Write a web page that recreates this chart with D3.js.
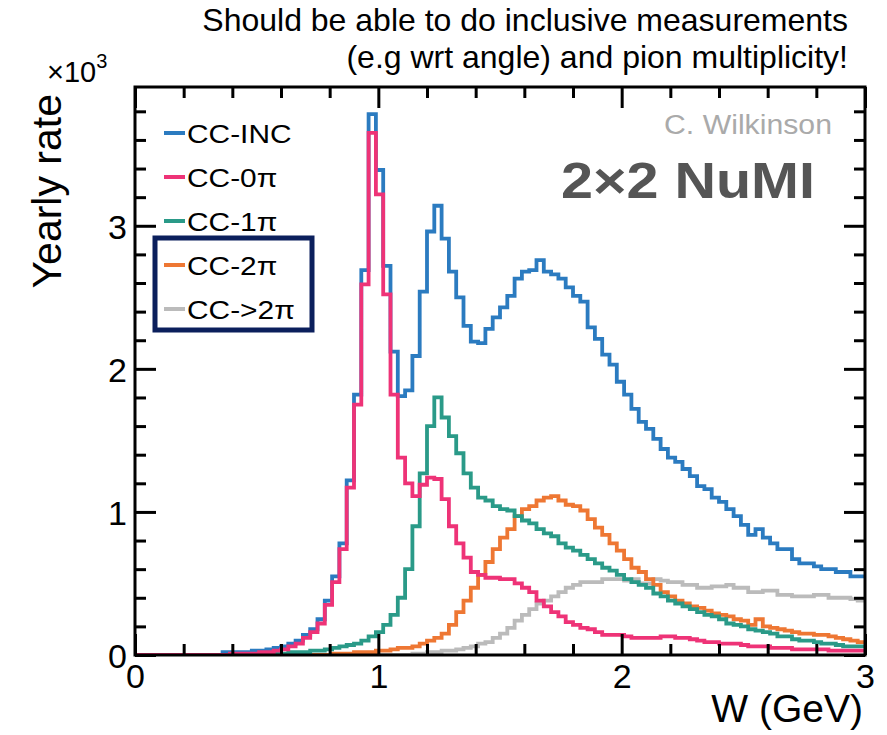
<!DOCTYPE html>
<html>
<head>
<meta charset="utf-8">
<script src="https://cdn.jsdelivr.net/npm/d3@7"></script>
<style>
  html, body { margin: 0; padding: 0; background: #ffffff; }
  svg { display: block; font-family: "Liberation Sans", Arial, Helvetica, sans-serif; }
</style>
</head>
<body>
<svg id="chart" width="887" height="735"></svg>
<script>
// ---------------- DATA ----------------
const binLow = 0;          // GeV
const binWidth = 0.03;     // GeV

const seriesNames = ["CC-INC", "CC-0\u03c0", "CC-1\u03c0", "CC-2\u03c0", "CC->2\u03c0"];
const seriesColors = ["#2b7bc0", "#ee3377", "#2a9a88", "#ee7733", "#bbbbbb"];

// yearly rate in units of 10^3, 100 bins of 0.03 GeV from W=0 to W=3
const ccInc = [
  0,0,0,0,0,0,0,0,0,0,
  0,0,0.02,0.02,0.02,0.02,0.03,0.03,0.04,0.05,
  0.06,0.08,0.10,0.14,0.18,0.25,0.38,0.55,0.78,1.22,
  1.82,2.69,3.78,3.39,2.72,2.12,1.81,1.85,2.09,2.54,
  2.96,3.14,2.91,2.68,2.50,2.30,2.19,2.18,2.28,2.36,
  2.43,2.51,2.63,2.68,2.69,2.76,2.68,2.66,2.63,2.57,
  2.51,2.47,2.29,2.21,2.10,2.03,1.91,1.82,1.72,1.63,
  1.58,1.51,1.44,1.38,1.35,1.30,1.25,1.18,1.16,1.10,
  1.07,1.02,0.97,0.91,0.84,0.88,0.82,0.78,0.74,0.74,
  0.67,0.64,0.64,0.62,0.60,0.60,0.58,0.58,0.55,0.55
];
const cc0pi = [
  0,0,0,0,0,0,0,0,0,0,
  0,0,0,0.01,0.01,0.01,0.01,0.02,0.02,0.03,
  0.04,0.06,0.08,0.12,0.16,0.22,0.35,0.51,0.74,1.17,
  1.75,2.59,3.65,3.22,2.52,1.82,1.38,1.20,1.11,1.19,
  1.24,1.23,1.09,0.90,0.78,0.68,0.58,0.56,0.54,0.54,
  0.53,0.53,0.50,0.47,0.44,0.38,0.34,0.30,0.27,0.23,
  0.21,0.19,0.18,0.16,0.14,0.14,0.14,0.13,0.12,0.12,
  0.12,0.12,0.13,0.13,0.12,0.12,0.11,0.10,0.09,0.09,
  0.08,0.08,0.08,0.07,0.06,0.06,0.06,0.05,0.05,0.05,
  0.04,0.04,0.04,0.04,0.04,0.03,0.03,0.03,0.03,0.03
];
const cc1pi = [
  0,0,0,0,0,0,0,0,0,0,
  0,0,0,0,0,0,0,0.01,0.01,0.01,
  0.01,0.02,0.02,0.02,0.03,0.03,0.04,0.05,0.06,0.07,
  0.08,0.10,0.13,0.16,0.21,0.28,0.40,0.60,0.90,1.27,
  1.60,1.80,1.66,1.53,1.41,1.27,1.17,1.10,1.08,1.04,
  1.02,1.01,0.97,0.94,0.92,0.88,0.85,0.83,0.78,0.75,
  0.73,0.70,0.67,0.64,0.61,0.59,0.56,0.53,0.51,0.49,
  0.47,0.43,0.41,0.38,0.36,0.34,0.32,0.30,0.28,0.27,
  0.25,0.22,0.21,0.20,0.18,0.17,0.16,0.15,0.13,0.13,
  0.11,0.10,0.10,0.09,0.08,0.08,0.07,0.06,0.06,0.06
];
const cc2pi = [
  0,0,0,0,0,0,0,0,0,0,
  0,0,0,0,0,0,0,0,0,0,
  0,0,0,0,0,0,0,0.01,0.01,0.01,
  0.02,0.02,0.02,0.03,0.03,0.04,0.05,0.05,0.06,0.08,
  0.10,0.12,0.15,0.21,0.30,0.38,0.47,0.56,0.65,0.74,
  0.82,0.88,0.97,1.02,1.04,1.08,1.10,1.11,1.08,1.05,
  1.04,1.01,0.95,0.89,0.84,0.78,0.73,0.67,0.61,0.58,
  0.53,0.49,0.44,0.41,0.38,0.36,0.34,0.33,0.31,0.29,
  0.28,0.27,0.25,0.24,0.21,0.25,0.20,0.19,0.18,0.17,
  0.16,0.15,0.15,0.14,0.14,0.13,0.12,0.11,0.10,0.09
];
const ccMore2pi = [
  0,0,0,0,0,0,0,0,0,0,
  0,0,0,0,0,0,0,0,0,0,
  0,0,0,0,0,0,0,0,0,0,
  0,0,0,0,0,0,0,0,0.01,0.01,
  0.02,0.02,0.03,0.03,0.04,0.05,0.06,0.08,0.09,0.12,
  0.15,0.19,0.24,0.28,0.32,0.36,0.38,0.41,0.44,0.47,
  0.49,0.51,0.51,0.51,0.53,0.53,0.53,0.52,0.53,0.50,
  0.50,0.53,0.52,0.51,0.51,0.49,0.49,0.47,0.47,0.48,
  0.48,0.49,0.47,0.47,0.44,0.44,0.45,0.45,0.42,0.42,
  0.41,0.41,0.41,0.42,0.42,0.40,0.40,0.40,0.39,0.38
];
const seriesValues = [ccInc, cc0pi, cc1pi, cc2pi, ccMore2pi];

const xMajorTicks = [0, 1, 2, 3];
const xMinorTicks = [0.2,0.4,0.6,0.8,1.2,1.4,1.6,1.8,2.2,2.4,2.6,2.8];
const yMajorTicks = [0, 1, 2, 3];
const yMinorTicks = [0.2,0.4,0.6,0.8,1.2,1.4,1.6,1.8,2.2,2.4,2.6,2.8,3.2,3.4,3.6,3.8];

const titleLines = ["Should be able to do inclusive measurements", "(e.g wrt angle) and pion multiplicity!"];

// ---------------- LAYOUT ----------------
const svg = d3.select("#chart");
const L = 135, R = 865, T = 87, B = 655;
const x = d3.scaleLinear().domain([0, 3]).range([L, R]);
const y = d3.scaleLinear().domain([0, 3.97]).range([B, T]);

svg.append("defs").append("clipPath").attr("id", "frameClip")
  .append("rect").attr("x", L).attr("y", T).attr("width", R - L).attr("height", B - T);

const line = d3.line().x(d => x(d[0])).y(d => y(d[1])).curve(d3.curveStepAfter);
const drawOrder = [0, 4, 3, 2, 1];
const g = svg.append("g").attr("clip-path", "url(#frameClip)");
drawOrder.forEach(si => {
  const vals = seriesValues[si];
  const pts = vals.map((v, i) => [binLow + i * binWidth, v]);
  pts.push([binLow + vals.length * binWidth, vals[vals.length - 1]]);
  g.append("path").attr("d", line(pts))
    .attr("fill", "none").attr("stroke", seriesColors[si])
    .attr("stroke-width", 3.8).attr("stroke-linejoin", "miter").attr("stroke-linecap", "butt");
});

// axes
const tickW = 3;
function styleAxis(sel) {
  sel.select(".domain").remove();
  sel.selectAll(".tick line").attr("stroke", "#000").attr("stroke-width", tickW);
  sel.selectAll("text").attr("font-family", "'Liberation Sans', Arial, sans-serif")
    .attr("font-size", 34).attr("fill", "#000");
}
const bMaj = svg.append("g").attr("transform", `translate(0,${B})`)
  .call(d3.axisBottom(x).tickValues(xMajorTicks).tickFormat(d3.format("d")).tickSizeInner(-21).tickSizeOuter(0).tickPadding(9));
styleAxis(bMaj);
const bMin = svg.append("g").attr("transform", `translate(0,${B})`)
  .call(d3.axisBottom(x).tickValues(xMinorTicks).tickFormat("").tickSizeInner(-11).tickSizeOuter(0));
styleAxis(bMin);
const tMaj = svg.append("g").attr("transform", `translate(0,${T})`)
  .call(d3.axisTop(x).tickValues(xMajorTicks).tickFormat("").tickSizeInner(-21).tickSizeOuter(0));
styleAxis(tMaj);
const tMin = svg.append("g").attr("transform", `translate(0,${T})`)
  .call(d3.axisTop(x).tickValues(xMinorTicks).tickFormat("").tickSizeInner(-11).tickSizeOuter(0));
styleAxis(tMin);
const lMaj = svg.append("g").attr("transform", `translate(${L},0)`)
  .call(d3.axisLeft(y).tickValues(yMajorTicks).tickFormat(d3.format("d")).tickSizeInner(-21).tickSizeOuter(0).tickPadding(8));
styleAxis(lMaj);
lMaj.selectAll("text").attr("dy", "0.36em");
const lMin = svg.append("g").attr("transform", `translate(${L},0)`)
  .call(d3.axisLeft(y).tickValues(yMinorTicks).tickFormat("").tickSizeInner(-11).tickSizeOuter(0));
styleAxis(lMin);
const rMaj = svg.append("g").attr("transform", `translate(${R},0)`)
  .call(d3.axisRight(y).tickValues(yMajorTicks).tickFormat("").tickSizeInner(-21).tickSizeOuter(0));
styleAxis(rMaj);
const rMin = svg.append("g").attr("transform", `translate(${R},0)`)
  .call(d3.axisRight(y).tickValues(yMinorTicks).tickFormat("").tickSizeInner(-11).tickSizeOuter(0));
styleAxis(rMin);

// frame
svg.append("rect").attr("x", L).attr("y", T).attr("width", R - L).attr("height", B - T)
  .attr("fill", "none").attr("stroke", "#000").attr("stroke-width", 3);

// axis titles
svg.append("text").attr("x", R - 2).attr("y", 722).attr("text-anchor", "end")
  .attr("font-size", 39).attr("fill", "#000").text("W (GeV)");
svg.append("text").attr("transform", "translate(61,94) rotate(-90)").attr("text-anchor", "end")
  .attr("font-size", 41).attr("fill", "#000").text("Yearly rate");
const mult = svg.append("text").attr("x", 47).attr("y", 82).attr("font-size", 29).attr("fill", "#000");
mult.append("tspan").text("\u00d710");
mult.append("tspan").attr("dy", -14).attr("font-size", 20).text("3");

// slide title
titleLines.forEach((t, i) => {
  svg.append("text").attr("x", 848).attr("y", 31 + i * 37).attr("text-anchor", "end")
    .attr("font-size", 32).attr("fill", "#000").text(t);
});

// labels in plot
svg.append("text").attr("transform", "translate(832,134) scale(1.12,1)").attr("text-anchor", "end")
  .attr("font-size", 27).attr("fill", "#aaaaaa").text("C. Wilkinson");
svg.append("text").attr("transform", "translate(815,198) scale(1.15,1)").attr("text-anchor", "end")
  .attr("font-size", 50).attr("font-weight", "bold").attr("fill", "#555555").text("2\u00d72 NuMI");

// legend
const legY0 = 133, legDY = 44;
seriesNames.forEach((name, i) => {
  const cy = legY0 + i * legDY;
  svg.append("line").attr("x1", 164).attr("x2", 185).attr("y1", cy).attr("y2", cy)
    .attr("stroke", seriesColors[i]).attr("stroke-width", 4);
  svg.append("text").attr("transform", `translate(187,${cy + 9.5}) scale(1.15,1)`)
    .attr("font-size", 26).attr("fill", "#000").text(name);
});
svg.append("rect").attr("x", 155).attr("y", 238).attr("width", 157).attr("height", 92)
  .attr("fill", "none").attr("stroke", "#0b1f5c").attr("stroke-width", 5);
</script>
</body>
</html>
